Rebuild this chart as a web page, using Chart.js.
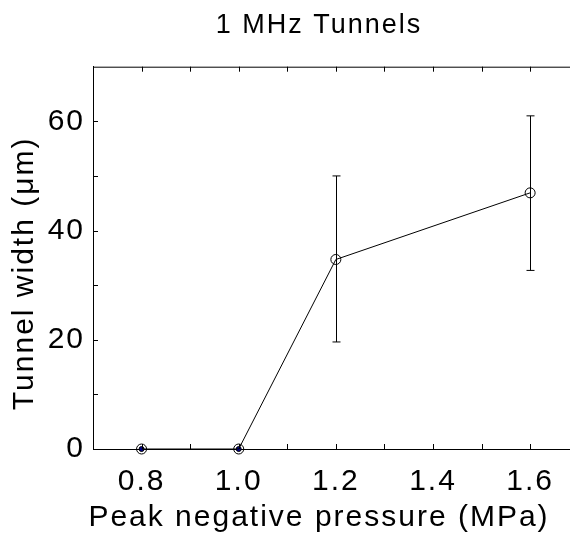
<!DOCTYPE html>
<html>
<head>
<meta charset="utf-8">
<script src="https://cdn.jsdelivr.net/npm/chart.js@4.4.0/dist/chart.umd.min.js"></script>
<style>
  html, body { margin: 0; padding: 0; background: #fff; overflow: hidden; }
  canvas { display: block; }
</style>
</head>
<body>
<canvas id="chart_tunnels" width="638" height="533"></canvas>
<script>
const pressure = [0.8, 1.0, 1.2, 1.6];
const tunnelWidth = [0, 0, 34.7, 46.9];
const errLow = [0, 0, 19.6, 32.7];
const errHigh = [0, 0, 50.0, 61.0];
const xTickLabels = ['0.8', '1.0', '1.2', '1.4', '1.6'];
const yTickLabels = ['0', '20', '40', '60'];

const FONT = "'Liberation Sans', Arial, Helvetica, sans-serif";

// the original text is a bit wider than Arial, spread the letters a little
const letterSpacing = {
    id: 'letterSpacing',
    beforeUpdate(chart) { chart.ctx.letterSpacing = '2px'; },
    beforeDraw(chart) { chart.ctx.letterSpacing = '2px'; }
};

const errorBars = {
    id: 'errorBars',
    afterDatasetsDraw(chart) {
        const { ctx, scales: { x, y } } = chart;
        ctx.save();
        ctx.strokeStyle = '#000';
        ctx.lineWidth = 1;
        pressure.forEach((p, i) => {
            if (errHigh[i] === errLow[i]) return;
            const px = Math.round(x.getPixelForValue(p)) + 0.5;
            const yLo = y.getPixelForValue(errLow[i]);
            const yHi = y.getPixelForValue(errHigh[i]);
            ctx.beginPath();
            ctx.moveTo(px, yLo); ctx.lineTo(px, yHi);
            ctx.moveTo(px - 4, yLo); ctx.lineTo(px + 4, yLo);
            ctx.moveTo(px - 4, yHi); ctx.lineTo(px + 4, yHi);
            ctx.stroke();
        });
        ctx.restore();
    }
};

// matlab style box: top/right edges and inward tick marks
const boxTicks = {
    id: 'boxTicks',
    afterDraw(chart) {
        const { ctx, chartArea: { left, right, top, bottom }, scales: { x, y } } = chart;
        const len = 5;
        ctx.save();
        ctx.strokeStyle = '#000';
        ctx.lineWidth = 1;
        ctx.beginPath();
        ctx.moveTo(left, top + 0.5); ctx.lineTo(right, top + 0.5);
        ctx.moveTo(right - 0.5, top); ctx.lineTo(right - 0.5, bottom);
        x.ticks.forEach(t => {
            if (t.value <= x.min + 1e-6 || t.value >= x.max - 1e-6) return;
            const px = Math.round(x.getPixelForValue(t.value)) + 0.5;
            ctx.moveTo(px, bottom); ctx.lineTo(px, bottom - len);
            ctx.moveTo(px, top); ctx.lineTo(px, top + len);
        });
        y.ticks.forEach(t => {
            if (t.value <= y.min || t.value >= y.max) return;
            const py = Math.round(y.getPixelForValue(t.value)) + 0.5;
            ctx.moveTo(left, py); ctx.lineTo(left + len, py);
            ctx.moveTo(right, py); ctx.lineTo(right - len, py);
        });
        ctx.stroke();
        ctx.restore();
    }
};

const canvas = document.getElementById('chart_tunnels');

new Chart(canvas, {
    type: 'line',
    data: {
        datasets: [
            {
                label: 'Tunnel width',
                data: pressure.map((p, i) => ({ x: p, y: tunnelWidth[i] })),
                borderColor: '#000',
                borderWidth: 1,
                tension: 0,
                pointStyle: 'circle',
                pointRadius: 5,
                pointBorderWidth: 1,
                pointBorderColor: '#000',
                pointBackgroundColor: 'transparent',
                clip: false
            },
            {
                label: 'No tunnel',
                data: pressure.map((p, i) => ({ x: p, y: tunnelWidth[i] })).filter(d => d.y === 0),
                showLine: false,
                pointRadius: 2.5,
                pointBorderWidth: 1,
                pointBorderColor: '#000',
                pointBackgroundColor: '#00008b',
                clip: false
            }
        ]
    },
    options: {
        responsive: false,
        animation: false,
        events: [],
        layout: { padding: 0 },
        plugins: {
            legend: { display: false },
            tooltip: { enabled: false },
            title: {
                display: true,
                text: '1 MHz Tunnels',
                color: '#000',
                font: { family: FONT, size: 27, weight: 'normal', lineHeight: 1 },
                padding: { top: 12.5, bottom: 27.2 }
            },
            subtitle: {
                display: true,
                position: 'bottom',
                text: 'Peak negative pressure (MPa)',
                color: '#000',
                font: { family: FONT, size: 30, weight: 'normal', lineHeight: 1 },
                padding: { top: 0, bottom: 0 }
            }
        },
        scales: {
            x: {
                type: 'linear',
                position: 'bottom',
                min: 0.7,
                max: 1.7,
                ticks: {
                    stepSize: 0.1,
                    autoSkip: false,
                    maxRotation: 0,
                    color: '#000',
                    padding: 15,
                    font: { family: FONT, size: 30 },
                    callback: v => {
                        const s = (Math.round(v * 10) / 10).toFixed(1);
                        return xTickLabels.includes(s) ? s : '';
                    }
                },
                grid: { display: false, drawTicks: false },
                border: { display: true, color: '#000', width: 1 },
                afterFit: s => { s.height = 54; }
            },
            y: {
                min: 0,
                max: 70,
                ticks: {
                    stepSize: 10,
                    autoSkip: false,
                    color: '#000',
                    padding: 8,
                    font: { family: FONT, size: 30 },
                    callback: v => yTickLabels.includes(String(v)) ? String(v) : ''
                },
                title: {
                    display: true,
                    // trailing spaces nudge the label down like the original
                    text: 'Tunnel width (μm)\u00a0\u00a0\u00a0',
                    color: '#000',
                    font: { family: FONT, size: 30, lineHeight: 1 },
                    padding: { top: 9.5, bottom: 0 }
                },
                grid: { display: false, drawTicks: false },
                border: { display: true, color: '#000', width: 1 },
                afterFit: s => { s.width = 93; }
            },
            yRight: {
                position: 'right',
                ticks: { display: false },
                grid: { display: false, drawTicks: false },
                border: { display: false },
                afterFit: s => { s.width = 59.3; }
            }
        }
    },
    plugins: [letterSpacing, errorBars, boxTicks]
});
</script>
</body>
</html>
